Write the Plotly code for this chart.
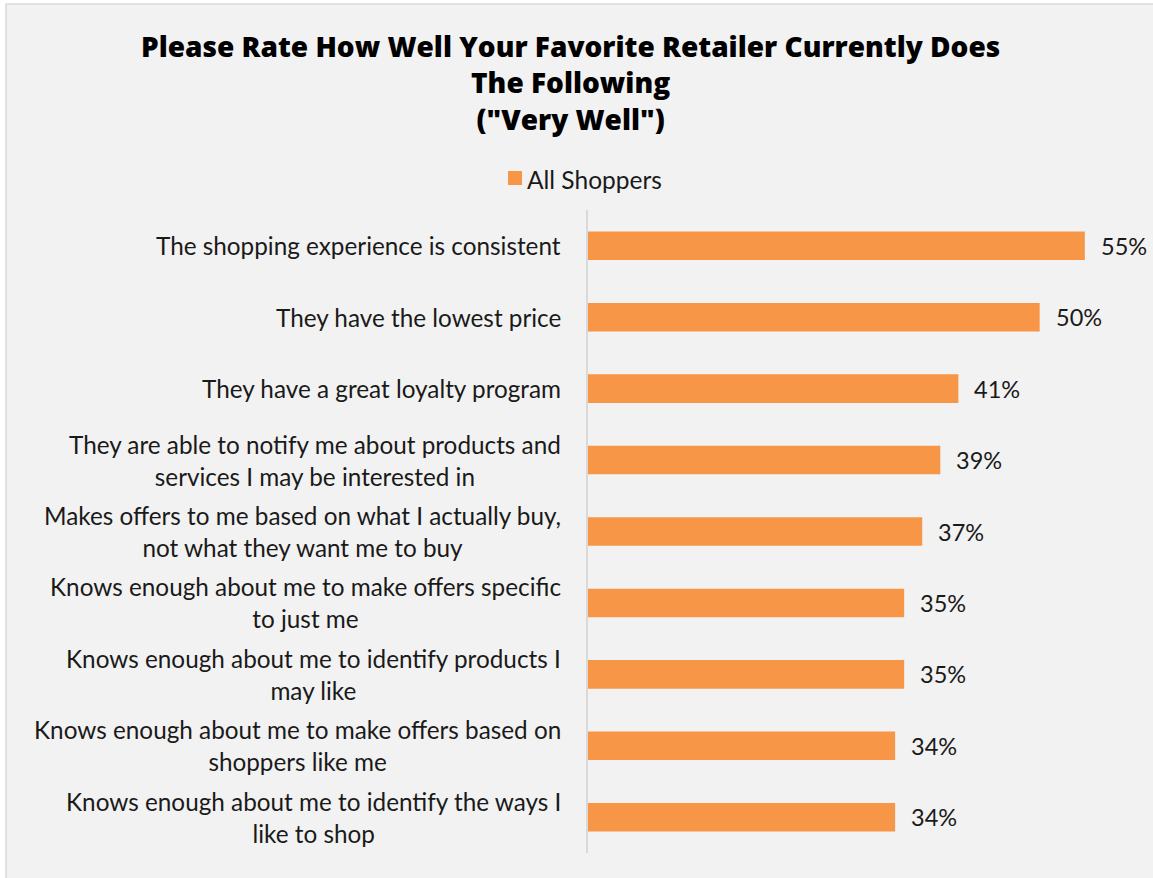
import plotly.graph_objects as go

# Survey items (top to bottom) and share answering "Very Well"
categories = [
    "The shopping experience is consistent",
    "They have the lowest price",
    "They have a great loyalty program",
    "They are able to notify me about products and<br>services I may be interested in",
    "Makes offers to me based on what I actually buy,<br>not what they want me to buy",
    "Knows enough about me to make offers specific<br>to just me",
    "Knows enough about me to identify products I<br>may like",
    "Knows enough about me to make offers based on<br>shoppers like me",
    "Knows enough about me to identify the ways I<br>like to shop",
]
values = [55, 50, 41, 39, 37, 35, 35, 34, 34]
series_name = "All Shoppers"
title_lines = [
    "Please Rate How Well Your Favorite Retailer Currently Does",
    "The Following",
    "(\"Very Well\")",
]

W, H = 1153, 878
L, R, T, B = 588, 23, 210, 25
PW, PH = W - L - R, H - T - B

def px_x(p):
    return (p - L) / PW

def px_y(p):
    return 1 + (T - p) / PH

FONT = "Lato"
TITLE_FONT = "Open Sans"
TXT = "#1a1a1a"
ORANGE = "#F79646"

fig = go.Figure()
fig.add_trace(go.Bar(
    x=values,
    y=categories,
    orientation="h",
    name=series_name,
    marker=dict(color=ORANGE, line=dict(width=0)),
    showlegend=False,
    hoverinfo="skip",
))

annotations = []
# category labels: block right-aligned, lines centred
for cat in categories:
    annotations.append(dict(
        x=px_x(563), xref="paper", xanchor="right",
        y=cat, yref="y", yanchor="middle",
        text=cat, align="center", showarrow=False,
        font=dict(family=FONT, size=24.3, color=TXT),
    ))
# value labels
for cat, v in zip(categories, values):
    annotations.append(dict(
        x=v, xref="x", xanchor="left", xshift=14,
        y=cat, yref="y", yanchor="middle",
        text=f"{v}%", showarrow=False,
        font=dict(family=FONT, size=23.5, color=TXT),
    ))
# title
annotations.append(dict(
    x=px_x(570), xref="paper", xanchor="center",
    y=px_y(83), yref="paper", yanchor="middle",
    text="<br>".join(title_lines), align="center", showarrow=False,
    font=dict(family=TITLE_FONT, size=28, color="#000000", weight=800),
))
# legend entry
annotations.append(dict(
    x=px_x(525), xref="paper", xanchor="left",
    y=px_y(179), yref="paper", yanchor="middle",
    text=series_name, showarrow=False,
    font=dict(family=FONT, size=24.5, color=TXT),
))

shapes = [
    dict(type="rect", xref="paper", yref="paper", layer="below",
         x0=px_x(6), x1=px_x(W + 20), y0=px_y(H + 20), y1=px_y(4),
         fillcolor="#f2f2f2", line=dict(color="#d9d9d9", width=1.5)),
    dict(type="rect", xref="paper", yref="paper",
         x0=px_x(508), x1=px_x(522), y0=px_y(185), y1=px_y(171),
         fillcolor=ORANGE, line=dict(width=0)),
]

fig.update_layout(
    width=W, height=H,
    margin=dict(l=L, r=R, t=T, b=B),
    paper_bgcolor="#ffffff",
    plot_bgcolor="rgba(0,0,0,0)",
    bargap=0.6,
    showlegend=False,
    xaxis=dict(range=[0, 60], visible=False, fixedrange=True),
    yaxis=dict(
        autorange="reversed", showticklabels=False, ticks="",
        showgrid=False, zeroline=False,
        showline=True, linecolor="#d9d9d9", linewidth=1.5,
    ),
    annotations=annotations,
    shapes=shapes,
    font=dict(family=FONT, color=TXT),
)

fig.write_html("out.html")
